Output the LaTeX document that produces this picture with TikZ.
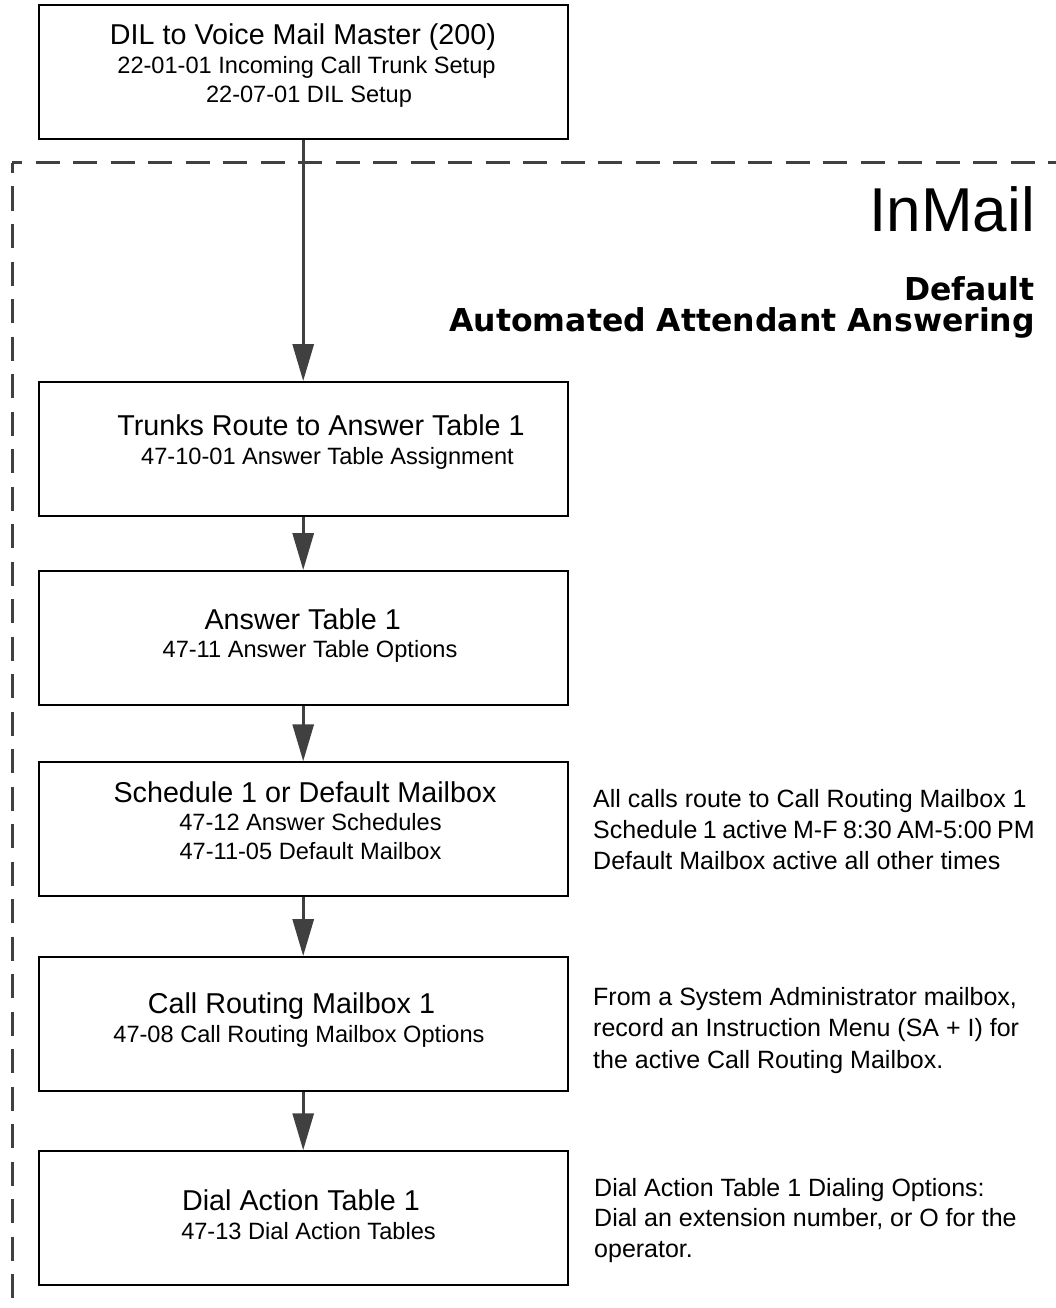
\documentclass[tikz,border=0pt]{standalone}
\usepackage{fontspec}
\setmainfont{Liberation Sans}
\newfontfamily\headfont{DejaVu Sans}
\usetikzlibrary{arrows.meta}
\definecolor{darkg}{HTML}{404040}
\begin{document}
\begin{tikzpicture}[x=1pt,y=-1pt,
  flowbox/.style={draw=black, line width=1.9pt, rectangle, minimum width=528.7pt, minimum height=133.6pt, inner sep=0pt},
  ttl/.style={anchor=base, inner sep=0pt, font=\fontsize{28.7}{34}\selectfont},
  subtxt/.style={anchor=base, inner sep=0pt, font=\fontsize{23.6}{28}\selectfont},
  notetxt/.style={anchor=base west, inner sep=0pt, font=\fontsize{25}{30}\selectfont},
  headtxt/.style={anchor=base east, inner sep=0pt, font=\headfont\bfseries\fontsize{31.5}{36}\selectfont},
  flowarrow/.style={draw=darkg, line width=3pt, -{Triangle[length=37pt,width=21pt]}},
  region/.style={draw=darkg, line width=3pt, dash pattern=on 24pt off 13.5pt, dash phase=14pt}]
\useasboundingbox (0,0) rectangle (1055,1308);

% dashed region
\coordinate (corner) at (12,163);
\coordinate (rEnd) at (1062,163);
\coordinate (bEnd) at (12,1316);
\draw[region] (corner) -- (rEnd);
\draw[region] (corner) -- (bEnd);

% boxes
\node[flowbox] (top) at (303.2,71.8) {};
\node[flowbox] (trunks) at (303.2,448.8) {};
\node[flowbox] (answer) at (303.2,637.8) {};
\node[flowbox] (sched) at (303.2,829) {};
\node[flowbox] (callr) at (303.2,1023.8) {};
\node[flowbox] (dial) at (303.2,1218) {};

% box texts
\node[ttl] (topT) at (303,44.6) {DIL to Voice Mail Master (200)};
\node[subtxt] (topS1) at (306.5,73.5) {22-01-01 Incoming Call Trunk Setup};
\node[subtxt] (topS2) at (309,103) {22-07-01 DIL Setup};

\node[ttl] (trT) at (321,435.5) {Trunks Route to Answer Table 1};
\node[subtxt] (trS) at (327.5,464.5) {47-10-01 Answer Table Assignment};

\node[ttl] (anT) at (302.7,629.3) {Answer Table 1};
\node[subtxt] (anS) at (310,657.7) {47-11 Answer Table Options};

\node[ttl] (scT) at (305,802) {Schedule 1 or Default Mailbox};
\node[subtxt] (scS1) at (310.5,830) {47-12 Answer Schedules};
\node[subtxt] (scS2) at (310.5,859.5) {47-11-05 Default Mailbox};

\node[ttl] (crT) at (291.5,1013.5) {Call Routing Mailbox 1};
\node[subtxt] (crS) at (299,1042) {47-08 Call Routing Mailbox Options};

\node[ttl] (daT) at (301,1210.5) {Dial Action Table 1};
\node[subtxt] (daS) at (308.5,1239) {47-13 Dial Action Tables};

% arrows
\draw[flowarrow] (top.south) -- (trunks.north);
\draw[flowarrow] (trunks.south) -- (answer.north);
\draw[flowarrow] (answer.south) -- (sched.north);
\draw[flowarrow] (sched.south) -- (callr.north);
\draw[flowarrow] (callr.south) -- (dial.north);

% heading
\node[anchor=base east, inner sep=0pt, font=\fontsize{62}{70}\selectfont] (inmail) at (1035,231.7) {InMail};
\node[headtxt] (hd1) at (1035,300) {Default};
\node[headtxt] (hd2) at (1035,331) {Automated Attendant Answering};

% notes
\node[notetxt] (n1a) at (593,807) {All calls route to Call Routing Mailbox 1};
\node[notetxt] (n1b) at (593,838) {\spaceskip=5.5pt Schedule 1 active M-F 8:30 AM-5:00 PM};
\node[notetxt] (n1c) at (593,869) {Default Mailbox active all other times};

\node[notetxt] (n2a) at (593,1005) {From a System Administrator mailbox,};
\node[notetxt] (n2b) at (593,1036.5) {record an Instruction Menu (SA + I) for};
\node[notetxt] (n2c) at (593,1068) {the active Call Routing Mailbox.};

\node[notetxt] (n3a) at (594,1196) {Dial Action Table 1 Dialing Options:};
\node[notetxt] (n3b) at (594,1226.5) {Dial an extension number, or O for the};
\node[notetxt] (n3c) at (594,1257) {operator.};
\end{tikzpicture}
\end{document}
